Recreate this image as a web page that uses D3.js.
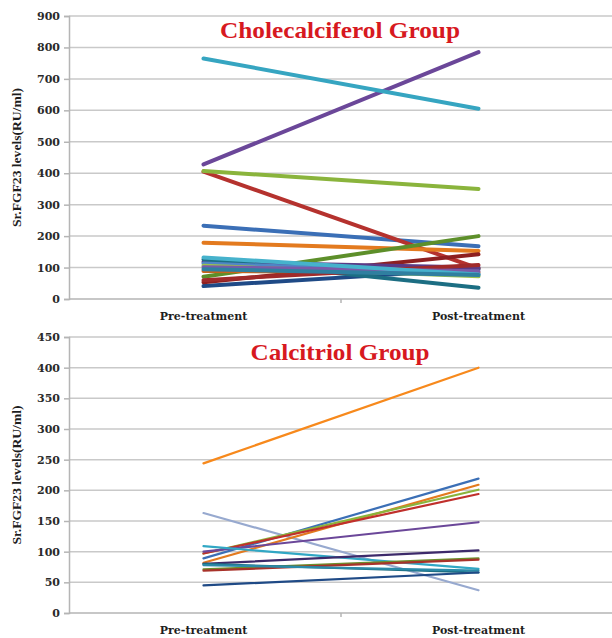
<!DOCTYPE html>
<html><head><meta charset="utf-8">
<script src="https://cdn.jsdelivr.net/npm/d3@7"></script>
<style>body{margin:0;background:#fff}svg{display:block}</style>
</head><body>
<svg id="c" width="612" height="638"></svg>
<script>
const categories = ["Pre-treatment", "Post-treatment"];
const cholTicks = [0,100,200,300,400,500,600,700,800,900];
const calcTicks = [0,50,100,150,200,250,300,350,400,450];

// Cholecalciferol group: [pre, post]
const cholValues = [
  [233, 168], [405, 97], [407, 350], [428, 785], [765, 605], [179, 153],
  [41, 95], [53, 142], [71, 200], [118, 100], [126, 36], [89, 84],
  [113, 80], [60, 108], [106, 72], [101, 88], [132, 78], [95, 76]
];
const cholColors = [
  "#3b6fb6", "#b5322e", "#8ab43c", "#6b4799", "#36a5c1", "#e37a1f",
  "#1f4a86", "#8e2020", "#5d8f2a", "#5a3a86", "#1c6e83", "#c9651a",
  "#4f86c6", "#a02a2a", "#9bc24e", "#7a5aa8", "#46b2cc", "#2f7fa0"
];

// Calcitriol group: [pre, post]
const calcValues = [
  [244, 400], [163, 37], [89, 219], [82, 209], [97, 201], [97, 194],
  [100, 148], [109, 72], [80, 102], [71, 89], [69, 87], [80, 66], [78, 69], [45, 66]
];
const calcColors = [
  "#f7891c", "#97a9cf", "#3b6fb6", "#e37a1f", "#8ab43c", "#c0302c",
  "#6b4799", "#31a7c4", "#3d2a6a", "#6c8f2c", "#a8322a", "#1c6e83", "#2b8aa8", "#1f4a86"
];

const svg = d3.select("#c");
const serif = "'Liberation Serif', 'Times New Roman', serif";
const dserif = "'DejaVu Serif', serif";

function panel(opts) {
  const g = svg.append("g");
  const y = d3.scaleLinear().domain([0, opts.max]).range([opts.bottom, opts.top]);
  const x = d3.scaleBand().domain(categories).range([66, 616]).padding(0);
  const axisX = 69;

  // gridlines
  g.append("g").selectAll("line").data(opts.ticks.slice(1)).join("line")
    .attr("x1", axisX).attr("x2", 612)
    .attr("y1", d => y(d)).attr("y2", d => y(d))
    .attr("stroke", "#c9c9c9").attr("stroke-width", 1.5);

  // y axis
  const ya = g.append("g").attr("transform", `translate(${axisX},0)`)
    .call(d3.axisLeft(y).tickValues(opts.ticks).tickSize(5).tickPadding(4));
  ya.select(".domain").attr("stroke", "#b5b5b5").attr("stroke-width", 1.5);
  ya.selectAll(".tick line").attr("stroke", "#b5b5b5").attr("stroke-width", 1.5);
  ya.selectAll(".tick text").attr("font-family", dserif).attr("font-weight", "bold")
    .attr("font-size", 11).attr("fill", "#2a2a2a");

  // x axis
  const xa = g.append("g").attr("transform", `translate(0,${opts.bottom})`)
    .call(d3.axisBottom(x).tickSize(0).tickPadding(13));
  xa.select(".domain").remove();
  xa.selectAll(".tick text").attr("font-family", dserif).attr("font-weight", "bold")
    .attr("font-size", 11).attr("fill", "#1e1e1e");
  g.append("line").attr("x1", axisX).attr("x2", 612)
    .attr("y1", opts.bottom).attr("y2", opts.bottom)
    .attr("stroke", "#b5b5b5").attr("stroke-width", 1.5);
  g.append("line").attr("x1", x("Post-treatment")).attr("x2", x("Post-treatment"))
    .attr("y1", opts.bottom).attr("y2", opts.bottom + 4)
    .attr("stroke", "#b5b5b5").attr("stroke-width", 1.5);

  // lines
  const line = d3.line().x((d, i) => x(categories[i]) + x.bandwidth() / 2).y(d => y(d));
  g.append("g").selectAll("path").data(opts.values).join("path")
    .attr("d", d => line(d))
    .attr("fill", "none")
    .attr("stroke", (d, i) => opts.colors[i])
    .attr("stroke-width", opts.lw)
    .attr("stroke-linecap", "round");

  // title
  g.append("text").attr("x", 340).attr("y", opts.titleY)
    .attr("text-anchor", "middle")
    .attr("font-family", serif).attr("font-weight", "bold").attr("font-size", 24)
    .attr("fill", "#d7191f")
    .attr("textLength", opts.titleLen).attr("lengthAdjust", "spacingAndGlyphs")
    .text(opts.title);

  // y label
  const cy = (opts.top + opts.bottom) / 2;
  g.append("text").attr("transform", `translate(21,${cy}) rotate(-90)`)
    .attr("text-anchor", "middle")
    .attr("font-family", serif).attr("font-weight", "bold").attr("font-size", 13)
    .attr("fill", "#1e1e1e")
    .attr("textLength", 139).attr("lengthAdjust", "spacingAndGlyphs")
    .text("Sr.FGF23 levels(RU/ml)");
}

panel({max: 900, ticks: cholTicks, top: 16, bottom: 299, values: cholValues,
  colors: cholColors, lw: 4, title: "Cholecalciferol Group", titleY: 38, titleLen: 240});
panel({max: 450, ticks: calcTicks, top: 337, bottom: 613, values: calcValues,
  colors: calcColors, lw: 2.2, title: "Calcitriol Group", titleY: 360, titleLen: 179});
</script>
</body></html>
